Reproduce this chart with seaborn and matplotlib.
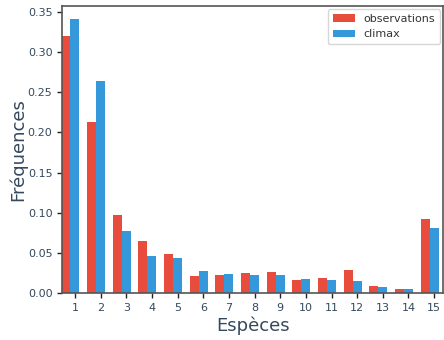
import numpy as np
import pandas as pd
import matplotlib
matplotlib.use("Agg")
import matplotlib.pyplot as plt
import seaborn as sns

species = list(range(1, 16))
observations = [0.320, 0.213, 0.097, 0.065, 0.049, 0.021, 0.022, 0.025, 0.026, 0.016, 0.019, 0.029, 0.009, 0.005, 0.092]
climax = [0.341, 0.264, 0.077, 0.046, 0.044, 0.027, 0.024, 0.022, 0.022, 0.0175, 0.016, 0.015, 0.0075, 0.005, 0.081]

sns.set_style("ticks")
plt.rcParams['font.family'] = ['DejaVu Sans']

fig = plt.figure(figsize=(4.44, 3.4), dpi=100)
ax = fig.add_axes([0.14, 0.138, 0.858, 0.844])

w = 0.35
x = np.array(species, dtype=float)
sns.barplot(x=x - w, y=observations, ax=ax, native_scale=True, width=w,
            color="#e74c3c", saturation=1, label="observations")
sns.barplot(x=x, y=climax, ax=ax, native_scale=True, width=w,
            color="#3498db", saturation=1, label="climax")
for p in ax.patches:
    p.set_width(w)
    p.set_edgecolor("none")
    p.set_linewidth(0)
n = len(species)
for i, p in enumerate(ax.patches[:n]):
    p.set_x(x[i] - w - w / 2)
for i, p in enumerate(ax.patches[n:2 * n]):
    p.set_x(x[i] - w / 2)

ax.set_xlim(0.5, 15.35)
ax.set_ylim(0, 0.357)
ax.set_xticks(species)
ax.set_xticklabels([str(s) for s in species])
yt = np.arange(0, 0.351, 0.05)
ax.set_yticks(yt)
ax.set_yticklabels([f"{v:.2f}" for v in yt])

txt = "#34495e"
ax.tick_params(colors="#222222", labelcolor=txt, labelsize=8, length=3.5, width=1)
for s in ax.spines.values():
    s.set_color("#555555")
    s.set_linewidth(1.2)
ax.set_xlabel("Espèces", fontsize=13, color=txt, labelpad=3)
ax.set_ylabel("Fréquences", fontsize=13, color=txt)
ax.yaxis.set_label_coords(-0.092, 0.5)
leg = ax.legend(loc="upper right", fontsize=8, frameon=True, handlelength=2.0,
                borderaxespad=0.3)
for t in leg.get_texts():
    t.set_color("#333333")

fig.savefig("out.png", dpi=100)
